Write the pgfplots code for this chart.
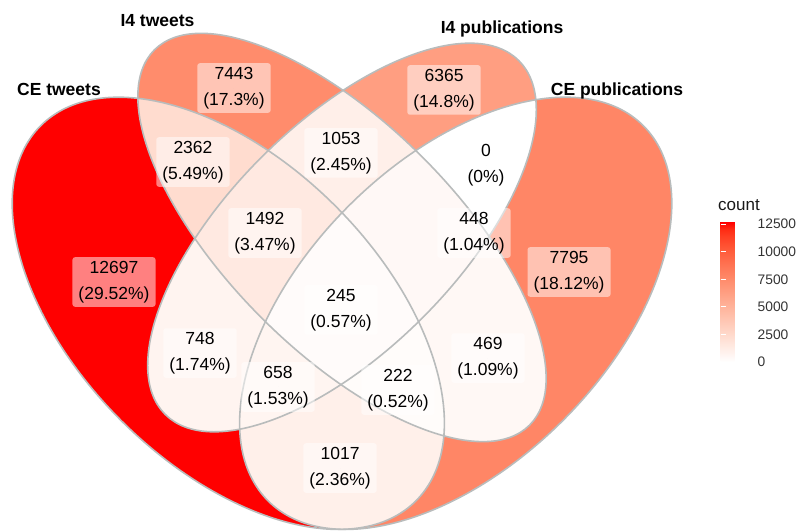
\documentclass[border=0pt]{standalone}
\usepackage{pgfplots}
\pgfplotsset{compat=1.18}
\usepackage{pgfplotstable}
\usepackage{fontspec}
\setmainfont{Liberation Sans}

% region colours (white -> red, Lab interpolation, limits 0..12697)
\definecolor{cA}{RGB}{255,0,0}
\definecolor{cB}{RGB}{255,140,108}
\definecolor{cC}{RGB}{255,158,129}
\definecolor{cD}{RGB}{255,134,102}
\definecolor{cAB}{RGB}{255,220,207}
\definecolor{cAC}{RGB}{255,244,240}
\definecolor{cAD}{RGB}{255,240,234}
\definecolor{cBC}{RGB}{255,239,233}
\definecolor{cBD}{RGB}{255,248,245}
\definecolor{cCD}{RGB}{255,255,255}
\definecolor{cABC}{RGB}{255,233,225}
\definecolor{cABD}{RGB}{255,252,250}
\definecolor{cACD}{RGB}{255,245,241}
\definecolor{cBCD}{RGB}{255,248,246}
\definecolor{cABCD}{RGB}{255,251,250}
\definecolor{edgegray}{RGB}{185,188,188}

% ellipses: A = CE tweets, B = I4 tweets, C = I4 publications, D = CE publications
\newcommand\clipA{\clip[rotate around={135:(axis cs:0.35,0.47)}] (axis cs:0.35,0.47) ellipse [x radius=265.3bp, y radius=151.6bp];}
\newcommand\clipB{\clip[rotate around={135:(axis cs:0.5,0.57)}] (axis cs:0.5,0.57) ellipse [x radius=265.3bp, y radius=113.7bp];}
\newcommand\clipC{\clip[rotate around={45:(axis cs:0.5,0.57)}] (axis cs:0.5,0.57) ellipse [x radius=250.1bp, y radius=113.7bp];}
\newcommand\clipD{\clip[rotate around={45:(axis cs:0.65,0.47)}] (axis cs:0.65,0.47) ellipse [x radius=265.3bp, y radius=151.6bp];}
\newcommand\fillA[1]{\path[#1,rotate around={135:(axis cs:0.35,0.47)}] (axis cs:0.35,0.47) ellipse [x radius=265.3bp, y radius=151.6bp];}
\newcommand\fillB[1]{\path[#1,rotate around={135:(axis cs:0.5,0.57)}] (axis cs:0.5,0.57) ellipse [x radius=265.3bp, y radius=113.7bp];}
\newcommand\fillC[1]{\path[#1,rotate around={45:(axis cs:0.5,0.57)}] (axis cs:0.5,0.57) ellipse [x radius=250.1bp, y radius=113.7bp];}
\newcommand\fillD[1]{\path[#1,rotate around={45:(axis cs:0.65,0.47)}] (axis cs:0.65,0.47) ellipse [x radius=265.3bp, y radius=151.6bp];}

\newcommand\lblfont{\fontsize{17.5bp}{25.7bp}\selectfont}
\newcommand\setfont{\fontsize{17.5bp}{20bp}\selectfont\bfseries}

% region label positions, counts and labels
\pgfplotstableread{
x y count label
0.1992 0.5113 12697 {12697\\(29.52\%)}
0.3575 0.7672 7443 {7443\\(17.3\%)}
0.6346 0.7646 6365 {6365\\(14.8\%)}
0.7995 0.5245 7795 {7795\\(18.12\%)}
0.3034 0.6696 2362 {2362\\(5.49\%)}
0.4987 0.6815 1053 {1053\\(2.45\%)}
0.6900 0.6656 0 {0\\(0\%)}
0.4974 0.2659 1017 {1017\\(2.36\%)}
0.3127 0.4176 748 {748\\(1.74\%)}
0.6926 0.4110 469 {469\\(1.09\%)}
0.3984 0.5759 1492 {1492\\(3.47\%)}
0.6741 0.5759 448 {448\\(1.04\%)}
0.4156 0.3728 658 {658\\(1.53\%)}
0.5739 0.3688 222 {222\\(0.52\%)}
0.4987 0.4744 245 {245\\(0.57\%)}
}\regions

\begin{document}
\begin{tikzpicture}
\path[use as bounding box] (0,0) rectangle (798bp,532bp);
\begin{axis}[
  at={(0,0)}, anchor=south west,
  width=798bp, height=532bp, scale only axis,
  xmin=0.0488, xmax=1.1016, ymin=0.1815, ymax=0.8833,
  hide axis, clip=true,
  colormap={venn}{rgb255(0cm)=(255,255,255); rgb255(1cm)=(255,245,242); rgb255(2cm)=(255,236,229); rgb255(4cm)=(255,217,203); rgb255(7cm)=(255,188,166); rgb255(10cm)=(255,158,129); rgb255(12cm)=(255,137,105); rgb255(16cm)=(255,91,58); rgb255(18cm)=(255,62,34); rgb255(19cm)=(255,42,19); rgb255(20cm)=(255,0,0)},
  colorbar, point meta min=0, point meta max=12697,
  colorbar style={
    at={(712bp,170bp)}, anchor=south west,
    scale only axis, width=28bp, height=140bp,
    ytick={0,2500,5000,7500,10000,12500},
    scaled y ticks=false,
    ytick pos=both, yticklabel pos=right,
    tick align=inside, major tick length=5.5bp,
    ytick style={draw=white, line width=0.9bp},
    axis line style={draw=none},
    yticklabel style={anchor=west, inner sep=0pt, xshift=9bp, text=black!80,
      font=\fontsize{13.8bp}{15bp}\selectfont,
      /pgf/number format/assume math mode=true,
      /pgf/number format/1000 sep={}},
  },
]
\pgfplotsextra{
  \fillA{fill=cA} \fillB{fill=cB} \fillC{fill=cC} \fillD{fill=cD}
  \begin{scope}\clipA \fillB{fill=cAB}\end{scope}
  \begin{scope}\clipA \fillC{fill=cAC}\end{scope}
  \begin{scope}\clipA \fillD{fill=cAD}\end{scope}
  \begin{scope}\clipB \fillC{fill=cBC}\end{scope}
  \begin{scope}\clipB \fillD{fill=cBD}\end{scope}
  \begin{scope}\clipC \fillD{fill=cCD}\end{scope}
  \begin{scope}\clipA \clipB \fillC{fill=cABC}\end{scope}
  \begin{scope}\clipA \clipB \fillD{fill=cABD}\end{scope}
  \begin{scope}\clipA \clipC \fillD{fill=cACD}\end{scope}
  \begin{scope}\clipB \clipC \fillD{fill=cBCD}\end{scope}
  \begin{scope}\clipA \clipB \clipC \fillD{fill=cABCD}\end{scope}
  \fillA{draw=edgegray, line width=1.6bp}
  \fillB{draw=edgegray, line width=1.6bp}
  \fillC{draw=edgegray, line width=1.6bp}
  \fillD{draw=edgegray, line width=1.6bp}
}
\addplot[only marks, mark=*, mark size=0pt, point meta=explicit symbolic,
  nodes near coords,
  nodes near coords align={center},
  every node near coord/.style={anchor=center, align=center, fill=white, fill opacity=0.5,
    text opacity=1, text=black, rounded corners=2.5bp, inner xsep=6bp, inner ysep=4bp,
    font=\lblfont},
] table[x=x, y=y, meta=label] {\regions};

\node[anchor=base, font=\setfont] at (axis cs:0.1266,0.7571) {CE tweets};
\node[anchor=base, font=\setfont] at (axis cs:0.2566,0.8477) {I4 tweets};
\node[anchor=base, font=\setfont] at (axis cs:0.7111,0.8385) {I4 publications};
\node[anchor=base, font=\setfont] at (axis cs:0.8628,0.7571) {CE publications};
\end{axis}
\node[anchor=base west, inner sep=0pt, font=\fontsize{17bp}{19bp}\selectfont, text=black!90] at (718bp,321bp) {count};
\end{tikzpicture}
\end{document}
